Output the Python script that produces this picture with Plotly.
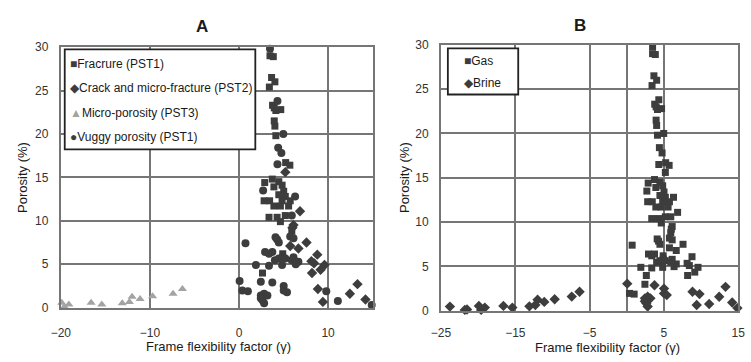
import plotly.graph_objects as go

# Frame flexibility factor (gamma) and porosity (%) by pore type, with pore-fluid labels
frac_x = [3.48, 3.85, 3.66, 4.03, 3.41, 3.77, 3.96, 4.69, 4.14, 3.96, 4.03, 4.14, 5.24, 5.71,
          3.74, 4.47, 4.84, 2.89, 3.92, 5.02, 4.47, 5.20, 2.82, 3.44, 4.84, 5.75, 3.92, 4.65,
          5.57, 3.37, 4.28, 5.20, 4.65, 4.91, 4.91, 2.64, 5.93]
frac_y = [29.0, 28.9, 26.5, 26.0, 25.4, 23.3, 23.0, 22.8, 22.7, 21.5, 20.9, 19.8, 16.7, 16.4,
          14.8, 14.5, 14.1, 14.4, 13.9, 13.4, 13.0, 12.8, 12.3, 12.3, 12.3, 12.3, 11.7, 11.7,
          11.7, 10.4, 10.4, 10.6, 9.9, 6.2, 5.8, 3.98, 8.8]
frac_fluid = ["Gas"] * 37

crack_x = [5.20, 6.85, 6.12, 6.00, 7.58, 5.75, 6.67, 8.79, 8.13, 8.43, 9.60, 9.16, 8.20,
           8.86, 9.42, 12.45, 13.30, 14.20]
crack_y = [15.6, 11.1, 9.5, 9.2, 7.5, 7.1, 6.8, 6.1, 5.35, 5.1, 4.9, 4.36, 3.98,
           2.15, 0.66, 1.59, 2.7, 0.93]
crack_fluid = ["Gas"] * 13 + ["Brine"] * 5

micro_x = [-23.8, -21.8, -21.5, -19.9, -19.6, -19.1, -16.6, -15.4, -13.1, -12.3, -12.0,
           -11.1, -9.7, -7.4, -6.35]
micro_y = [0.47, 0.1, 0.15, 0.55, 0.1, 0.36, 0.55, 0.36, 0.5, 0.65, 1.25, 1.0, 1.3, 1.6, 2.15]
micro_fluid = ["Brine"] * 15

vug_x = [3.48, 4.32, 4.98, 4.40, 4.76, 4.32, 2.71, 6.30, 5.93, 4.10, 0.73, 4.29, 4.47, 5.75,
         6.12, 2.93, 3.37, 3.74, 6.12, 4.03, 4.47, 5.20, 5.93, 6.67, 1.90, 3.37, 4.84, 6.37,
         0.07, 2.45, 3.74, 5.02, 5.02, 5.39, 0.37, 1.00, 2.45, 2.82, 3.19, 2.64, 2.82, 2.45,
         9.80, 11.10, 14.90]
vug_y = [29.8, 23.8, 20.0, 18.4, 17.8, 16.5, 13.5, 12.8, 10.6, 8.1, 7.4, 7.85, 7.5, 8.2,
         8.0, 6.4, 6.2, 6.4, 5.8, 5.46, 5.65, 5.65, 5.46, 5.28, 4.9, 4.83, 4.9, 4.98,
         3.06, 2.99, 2.88, 2.5, 1.96, 1.77, 1.96, 1.88, 1.4, 1.6, 1.4, 0.85, 0.49, 1.07,
         1.88, 0.77, 0.3]
vug_fluid = (["Gas"] * 28 + ["Brine", "Gas", "Brine", "Brine", "Brine", "Brine", "Gas", "Gas"]
             + ["Brine"] * 9)

y_ticks = [0, 5, 10, 15, 20, 25, 30]
xa_ticks = [-20, -10, 0, 10]
xb_ticks = [-25, -15, -5, 5, 15]

DARK = "#3d3d3d"
LIGHT = "#a3a3a3"
GRID = "#767676"
FONT = "Liberation Sans, Arial, sans-serif"

pore_types = [
    ("Fracrure (PST1)", frac_x, frac_y, "square", 7, DARK),
    ("Crack and micro-fracture (PST2)", crack_x, crack_y, "diamond", 8, DARK),
    ("Micro-porosity (PST3)", micro_x, micro_y, "triangle-up", 8, LIGHT),
    ("Vuggy porosity (PST1)", vug_x, vug_y, "circle", 8, DARK),
]

fig = go.Figure()

# Panel A: shaped by pore type (axis starts at -20)
for name, xs, ys, sym, size, col in pore_types:
    pts = [(x, y) for x, y in zip(xs, ys) if x >= -20]
    fig.add_trace(go.Scatter(
        x=[p[0] for p in pts], y=[p[1] for p in pts], mode="markers", name=name,
        marker=dict(symbol=sym, size=size, color=col, line=dict(width=0)),
        xaxis="x", yaxis="y", cliponaxis=False, showlegend=False))

# Panel B: same points split by pore fluid
all_x = frac_x + crack_x + micro_x + vug_x
all_y = frac_y + crack_y + micro_y + vug_y
all_f = frac_fluid + crack_fluid + micro_fluid + vug_fluid
for fluid, sym, size in [("Gas", "square", 7), ("Brine", "diamond", 8)]:
    fig.add_trace(go.Scatter(
        x=[x for x, f in zip(all_x, all_f) if f == fluid],
        y=[y for y, f in zip(all_y, all_f) if f == fluid],
        mode="markers", name=fluid,
        marker=dict(symbol=sym, size=size, color=DARK, line=dict(width=0)),
        xaxis="x2", yaxis="y2", cliponaxis=False, showlegend=False))

axis_common = dict(showgrid=True, gridcolor=GRID, gridwidth=2,
                   showline=True, linecolor=GRID, linewidth=2, mirror=True,
                   ticks="outside", tickcolor="rgba(0,0,0,0)", ticklabeloverflow="allow",
                   tickfont=dict(family=FONT, size=12, color="#333333"))

fig.update_layout(
    width=751, height=362, margin=dict(l=0, r=0, t=0, b=0),
    paper_bgcolor="white", plot_bgcolor="white", showlegend=False,
    xaxis=dict(domain=[52 / 751, 371 / 751], range=[-20, 15], tickvals=xa_ticks,
               zeroline=False, ticklen=13, anchor="y", **axis_common),
    yaxis=dict(domain=[1 - 312.7 / 362, 1 - 41.7 / 362], range=[0, 30], tickvals=y_ticks,
               zeroline=False, ticklen=8, anchor="x", **axis_common),
    # panel B keeps its vertical axis line at x = 0
    xaxis2=dict(domain=[441 / 751, 745 / 751], range=[-25, 15], tickvals=xb_ticks,
                zeroline=True, zerolinecolor=GRID, zerolinewidth=2,
                ticklen=10, anchor="y2", **axis_common),
    yaxis2=dict(domain=[1 - 316 / 362, 1 - 39.3 / 362], range=[0, 30], tickvals=y_ticks,
                zeroline=False, ticklen=8, anchor="x2", **axis_common),
)

def px_x(p):
    return p / 751

def px_y(p):
    return 1 - p / 362

# Legend frames
shapes = [
    dict(type="rect", xref="paper", yref="paper", x0=px_x(56), x1=px_x(251),
         y0=px_y(148), y1=px_y(44), line=dict(color="#222222", width=1.8), fillcolor="white",
         layer="above"),
    dict(type="rect", xref="paper", yref="paper", x0=px_x(448), x1=px_x(520),
         y0=px_y(91), y1=px_y(43), line=dict(color="#222222", width=1.8), fillcolor="white",
         layer="above"),
]

texts = [
    ("<b>A</b>", 196, 20, 17, 0),
    ("<b>B</b>", 583, 19, 17, 0),
    ("Porosity (%)", 12, 177, 13, -90),
    ("Porosity (%)", 403, 177, 13, -90),
    ("Frame flexibility factor (γ)", 213, 353, 13, 0),
    ("Frame flexibility factor (γ)", 611, 354, 13, 0),
]
annotations = []
for t, x, y, s, ang in texts:
    annotations.append(dict(text=t, x=px_x(x), y=px_y(y), xref="paper", yref="paper",
                            showarrow=False, xanchor="center", yanchor="middle",
                            textangle=ang, font=dict(family=FONT, size=s, color="#1a1a1a")))

# Legend entries with glyph keys
legend_a = [("■", DARK, "Fracrure (PST1)", 59.5), ("◆", DARK, "Crack and micro-fracture (PST2)", 84),
            ("▲", LIGHT, "Micro-porosity (PST3)", 110), ("●", DARK, "Vuggy porosity (PST1)", 135.5)]
for g, c, t, y in legend_a:
    annotations.append(dict(
        text=f"<span style='color:{c};font-size:12px'>{g}</span>{t}", x=px_x(59), y=px_y(y),
        xref="paper", yref="paper", showarrow=False, xanchor="left", yanchor="middle",
        font=dict(family=FONT, size=12, color="#1a1a1a")))
legend_b = [("■", DARK, "Gas", 55.7), ("◆", DARK, "Brine", 79.3)]
for g, c, t, y in legend_b:
    annotations.append(dict(
        text=f"<span style='color:{c};font-size:12px'>{g}</span>{t}", x=px_x(462), y=px_y(y),
        xref="paper", yref="paper", showarrow=False, xanchor="left", yanchor="middle",
        font=dict(family=FONT, size=12, color="#1a1a1a")))

fig.update_layout(annotations=annotations, shapes=shapes)

fig.write_html("out.html")
